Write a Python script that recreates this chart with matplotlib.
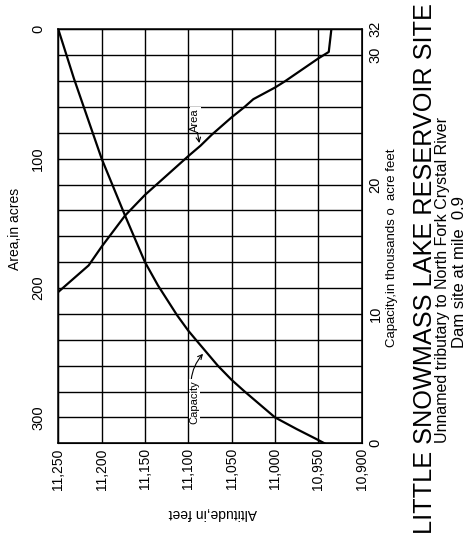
import matplotlib
matplotlib.use('Agg')
import matplotlib.pyplot as plt
from matplotlib.ticker import MultipleLocator

plt.rcParams['font.family'] = ['Liberation Sans', 'DejaVu Sans']

# altitude axis (feet), runs high -> low left to right
alt_ticks = [11250, 11200, 11150, 11100, 11050, 11000, 10950, 10900]
alt_labels = ['11,250', '11,200', '11,150', '11,100', '11,050', '11,000', '10,950', '10,900']

# area curve (acres)
area_alt = [11250, 11215, 11200, 11173, 11150, 11100, 11086, 11073, 11050,
            11036, 11025, 11000, 10989, 10950, 10938, 10935]
area_val = [203, 182.5, 168, 144, 128, 98, 90, 81.5, 68,
            60.5, 54, 45, 40.4, 22.5, 17.5, 0]

# capacity curve (thousands of acre feet)
cap_alt = [11250, 11232, 11200, 11173, 11150, 11135, 11113, 11100, 11090,
           11066, 11050, 11035, 11000, 10975, 10950, 10943]
cap_val = [32, 28.2, 22.0, 17.6, 14.0, 12.2, 9.9, 8.7, 7.9,
           6.0, 4.9, 4.0, 2.0, 1.1, 0.25, 0]

area_ticks = [0, 100, 200, 300]
cap_ticks = [0, 10, 20, 30, 32]

W, H = 470, 558
fig = plt.figure(figsize=(W/100, H/100), dpi=100)
# frame: x 58.3..361.7, y 29.3..443.3 (pixels from top)
ax = fig.add_axes([58.3/W, 1-443.3/H, 303.4/W, 414/H])

ax.set_xlim(11250, 10900)
ax.set_ylim(320, 0)
ax.set_xticks(alt_ticks)
ax.set_xticklabels(alt_labels, rotation=90, fontsize=10)
ax.set_yticks(area_ticks)
ax.set_yticklabels([str(v) for v in area_ticks], rotation=90, va='center', fontsize=10.5)
ax.yaxis.set_minor_locator(MultipleLocator(20))
ax.grid(True, which='both', color='black', linewidth=1.0)
ax.tick_params(axis='both', which='both', length=0)
ax.tick_params(axis='y', pad=9.5)
ax.tick_params(axis='x', pad=3.5)
for s in ax.spines.values():
    s.set_linewidth(1.1)

ax.plot(area_alt, area_val, color='black', linewidth=1.6)

ax2 = ax.twinx()
ax2.set_ylim(0, 32)
ax2.set_yticks(cap_ticks)
ax2.set_yticklabels([str(v) for v in cap_ticks], rotation=90, va='center', fontsize=10.5)
ax2.tick_params(axis='y', length=0, pad=5)
ax2.plot(cap_alt, cap_val, color='black', linewidth=1.6)

ax.annotate('Area', xy=(11087, 89), xytext=(11092, 70), rotation=90,
            ha='center', va='center', fontsize=8,
            bbox=dict(boxstyle='square,pad=0.05', fc='white', ec='none'),
            arrowprops=dict(arrowstyle='->', color='black', lw=0.8,
                            shrinkA=0, shrinkB=1))
ax2.annotate('Capacity', xy=(11082, 7.0), xytext=(11093, 3.2), rotation=90,
             ha='center', va='center', fontsize=8,
             bbox=dict(boxstyle='square,pad=0.05', fc='white', ec='none'),
             arrowprops=dict(arrowstyle='->', color='black', lw=0.8,
                             connectionstyle='arc3,rad=-0.3',
                             shrinkA=0, shrinkB=1))

fig.text(15/W, 1-229/H, 'Area,in acres', rotation=90, ha='center', va='center', fontsize=10)
fig.text(213/W, 1-513/H, 'Altitude,in feet', rotation=180, ha='center', va='center', fontsize=10)
fig.text(392/W, 1-248/H, 'Capacity,in thousands o  acre feet', rotation=90,
         ha='center', va='center', fontsize=9.5)
fig.text(425/W, 1-269/H, 'LITTLE SNOWMASS LAKE RESERVOIR SITE', rotation=90,
         ha='center', va='center', fontsize=18.2)
fig.text(443/W, 1-280/H, 'Unnamed tributary to North Fork Crystal River', rotation=90,
         ha='center', va='center', fontsize=11.5)
fig.text(460/W, 1-272/H, 'Dam site at mile  0.9', rotation=90,
         ha='center', va='center', fontsize=12)

fig.savefig('out.png', dpi=100)
